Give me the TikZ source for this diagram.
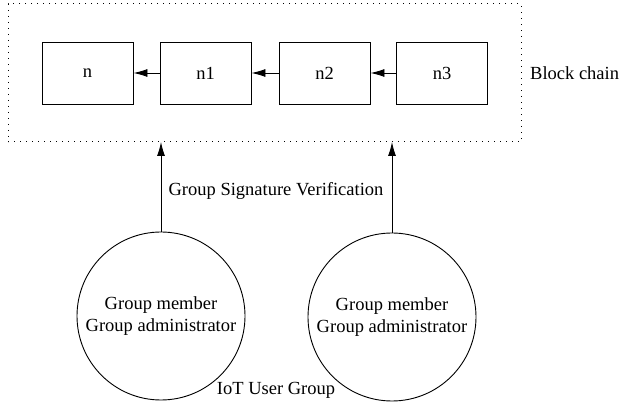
\documentclass[tikz,border=0pt]{standalone}
\usepackage{fontspec}
\setmainfont{Liberation Serif}
\usetikzlibrary{arrows.meta}
\begin{document}
\begin{tikzpicture}[x=1pt,y=-1pt,
  blk/.style={draw,line width=0.9pt,minimum width=91pt,minimum height=62pt,inner sep=0pt,font=\fontsize{18.5}{20}\selectfont},
  grp/.style={draw,circle,line width=0.9pt,minimum size=168pt,inner sep=0pt,align=center,font=\fontsize{18.5}{22}\selectfont},
  arr/.style={line width=0.9pt,-{Latex[length=14pt,width=8pt]}},
  lbl/.style={inner sep=0pt,font=\fontsize{18.5}{20}\selectfont}]
\useasboundingbox (0,0) rectangle (627,406);
\node[draw,dash pattern=on 1pt off 5pt,line width=1pt,minimum width=513pt,minimum height=138pt,inner sep=0pt] (chain) at (264.5,73) {};
\node[blk] (n) at (87.5,73) {n};
\node[blk] (n1) at (205.5,73) {n1};
\node[blk] (n2) at (324.5,73) {n2};
\node[blk] (n3) at (442,73) {n3};
\draw[arr] (n1) -- (n);
\draw[arr] (n2) -- (n1);
\draw[arr] (n3) -- (n2);
\node[lbl,anchor=west] (bc) at (530,73) {Block chain};
\node[grp] (g1) at (161,316) {Group member\\Group administrator};
\node[grp] (g2) at (392,317) {Group member\\Group administrator};
\coordinate (t1) at (161,142);
\coordinate (t2) at (392,142);
\draw[arr] (g1.north) -- (t1);
\draw[arr] (g2.north) -- (t2);
\node[lbl] (gsv) at (276,191) {Group Signature Verification};
\node[lbl] (iot) at (276,390) {IoT User Group};
\end{tikzpicture}
\end{document}
